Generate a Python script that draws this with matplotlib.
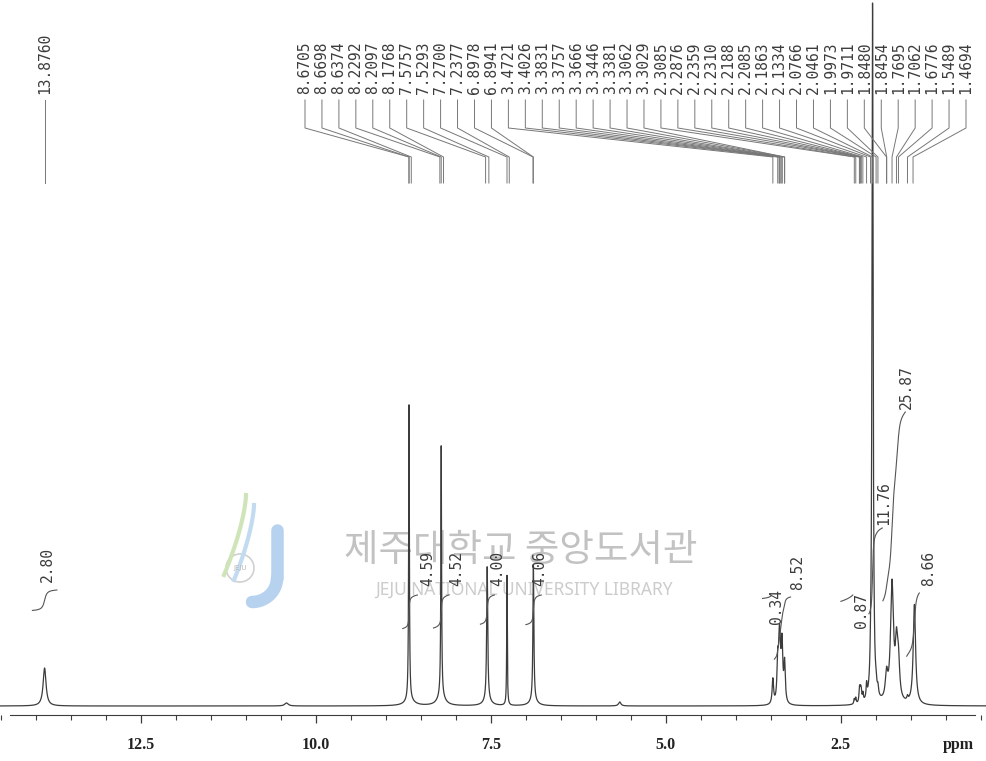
import numpy as np
import matplotlib.pyplot as plt
from matplotlib.ticker import MultipleLocator
from matplotlib.patches import Circle

# peak list printed across the top of the spectrum (ppm)
peak_list = [8.6705, 8.6698, 8.6374, 8.2292, 8.2097, 8.1768, 7.5757, 7.5293,
             7.2700, 7.2377, 6.8978, 6.8941, 3.4721, 3.4026, 3.3831, 3.3757,
             3.3666, 3.3446, 3.3381, 3.3062, 3.3029, 2.3085, 2.2876, 2.2359,
             2.2310, 2.2188, 2.2085, 2.1863, 2.1334, 2.0766, 2.0461, 1.9973,
             1.9711, 1.8480, 1.8454, 1.7695, 1.7062, 1.6776, 1.5489, 1.4694]
lone_peak = 13.8760

# lines of the spectrum: shift (ppm), height (px above baseline), half width (ppm)
line_ppm = [13.876, 10.42, 8.670, 8.66, 8.210, 8.21, 7.553, 7.55, 7.270, 6.893, 6.89, 5.66,
            3.472, 3.403, 3.383, 3.376, 3.367, 3.345, 3.338, 3.306, 3.303,
            2.309, 2.288, 2.236, 2.231, 2.219, 2.209, 2.186, 2.133, 2.077, 2.048,
            1.997, 1.971, 1.848, 1.770, 1.706, 1.678, 1.549, 1.450]
line_height = [38, 3, 296, 5, 250, 10, 134, 5, 130, 136, 5, 4,
               25, 40, 30, 28, 25, 32, 30, 22, 18,
               5, 6, 8, 8, 10, 9, 8, 14, 12, 700,
               8, 8, 25, 118, 50, 35, 4, 100]
line_hw = [0.025, 0.03, 0.006, 0.08, 0.006, 0.06, 0.009, 0.06, 0.005, 0.008, 0.06, 0.02,
           0.012, 0.012, 0.012, 0.012, 0.012, 0.012, 0.012, 0.012, 0.012,
           0.008, 0.008, 0.008, 0.008, 0.008, 0.008, 0.008, 0.008, 0.008, 0.010,
           0.01, 0.01, 0.02, 0.025, 0.02, 0.02, 0.01, 0.02]

# integrals: value, region (from, to) in ppm
int_value = [2.80, 4.59, 4.52, 4.00, 4.06, 0.34, 8.52, 0.87, 11.76, 25.87, 8.66]
int_from = [14.05, 8.76, 8.32, 7.65, 7.00, 3.62, 3.45, 2.50, 2.10, 1.90, 1.56]
int_to = [13.70, 8.55, 8.10, 7.45, 6.78, 3.50, 3.22, 2.33, 1.91, 1.58, 1.38]

# layout (figure pixels): top end of each integral curve, label centre
int_top = [590, 595, 595, 595, 595, 596, 597, 595, 528, 412, 593]
int_lab_x = [47, 428, 457, 498, 540, 777, 798, 862, 884, 906, 929]
int_lab_y = [565, 569, 569, 569, 569, 607, 572, 611, 503, 387, 568]

GREY = '#3c3c3c'
BASE = 706  # baseline of the spectrum, px from top


def px2ppm(x):
    return 8.67 - (x - 409) / 70.0


ppm = np.linspace(14.6, 0.3, 40000)
spec = np.zeros_like(ppm)
for c, h, w in zip(line_ppm, line_height, line_hw):
    spec += h * w**2 / ((ppm - c)**2 + w**2)

fig = plt.figure(figsize=(9.87, 7.61), dpi=100)

# watermark layer in pixel coords
ov = fig.add_axes([0, 0, 1, 1], zorder=0)
ov.set_xlim(0, 987)
ov.set_ylim(761, 0)
ov.axis('off')
ov.text(521, 550, '제주대학교 중앙도서관', fontsize=27, color='#c2c2c2',
        family=['Noto Sans CJK KR', 'DejaVu Sans'], ha='center', va='center')
ov.text(524, 590, 'JEJU NATIONAL UNIVERSITY LIBRARY', fontsize=12.5, color='#cccccc',
        family='Noto Sans', ha='center', va='center')
t = np.linspace(0, 1, 50)
ov.plot(277 + 0 * t, 530 + 48 * t, color='#b6d2ee', lw=9, solid_capstyle='round')
a = np.linspace(0, np.pi / 2, 40)
ov.plot(252 + 25 * np.cos(a), 578 + 24 * np.sin(a), color='#b6d2ee', lw=9,
        solid_capstyle='round')
ov.plot(246 - 22 * t**1.5, 495 + 80 * t, color='#cfe5b9', lw=3)
ov.plot(254 - 20 * t**1.5, 505 + 75 * t, color='#c3dbf1', lw=3)
ov.add_patch(Circle((240, 568), 14, fc='white', ec='#d0d0d0', lw=1.2))
ov.text(240, 568, 'JEJU', fontsize=5, color='#b8b8b8', ha='center', va='center')

# spectrum axes: x in ppm, y in px above baseline
ax = fig.add_axes([0, 46 / 761, 1, 715 / 761], zorder=1)
ax.patch.set_alpha(0)
ax.set_xlim(px2ppm(0), px2ppm(987))
ax.set_ylim(-9, BASE)
ax.plot(ppm, spec, color=GREY, lw=0.9)

for sp in ['top', 'left', 'right']:
    ax.spines[sp].set_visible(False)
ax.spines['bottom'].set_bounds(px2ppm(10), px2ppm(975))
ax.spines['bottom'].set_color(GREY)
ax.yaxis.set_visible(False)
ax.xaxis.set_major_locator(MultipleLocator(2.5))
ax.xaxis.set_minor_locator(MultipleLocator(0.5))
ax.tick_params(axis='x', which='major', direction='out', length=6, width=0.9,
               color=GREY, pad=10, labelsize=11.5, labelcolor='#222')
ax.tick_params(axis='x', which='minor', direction='out', length=3.5, width=0.8, color=GREY)
ax.set_xticklabels([f'{v:.1f}' for v in ax.get_xticks()], family='Liberation Serif',
                   fontweight='bold')
fig.text(958 / 987, 1 - 745 / 761, 'ppm', family='Liberation Serif', fontweight='bold',
         fontsize=11.5, color='#222', ha='center', va='center')

# peak labels with connector lines
lab_x = np.linspace(px2ppm(305), px2ppm(966), len(peak_list))
y_txt, y1, y2, y_mid, y3 = BASE - 94, BASE - 100, BASE - 128, BASE - 157, BASE - 183
for lx, p in zip(lab_x, peak_list):
    ax.text(lx, y_txt, f'{p:.4f}', rotation=90, ha='center', va='bottom',
            family='DejaVu Sans Mono', fontsize=10.5, color=GREY)
    ax.plot([lx, lx, p, p], [y1, y2, y_mid, y3], color='#777', lw=0.7)
ax.text(lone_peak, y_txt, f'{lone_peak:.4f}', rotation=90, ha='center', va='bottom',
        family='DejaVu Sans Mono', fontsize=10.5, color=GREY)
ax.plot([lone_peak, lone_peak], [y1, y3], color='#777', lw=0.7)

# integral curves from the spectrum itself
k = 7.3
for v, a0, a1, top, lxp, lyp in zip(int_value, int_from, int_to, int_top,
                                     int_lab_x, int_lab_y):
    m = (ppm <= a0) & (ppm >= a1)
    cum = np.cumsum(spec[m])
    cum = cum / cum[-1]
    base = (BASE - top) - k * v
    ax.plot(ppm[m], base + k * v * cum, color='#555', lw=0.8)
    ax.text(px2ppm(lxp), BASE - lyp, f'{v:.2f}', rotation=90, ha='center', va='center',
            family='DejaVu Sans Mono', fontsize=10.5, color=GREY)

fig.savefig('out.png', dpi=100)
